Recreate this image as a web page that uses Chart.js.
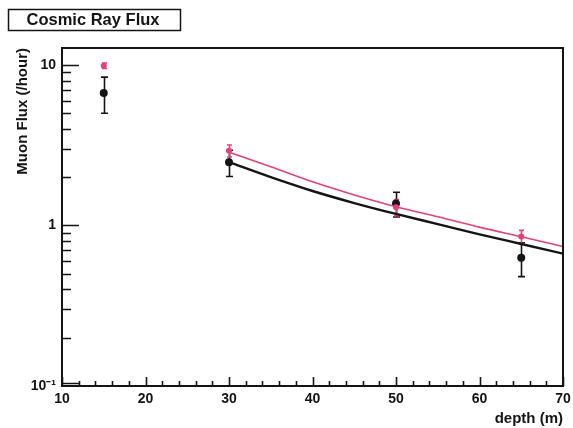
<!DOCTYPE html>
<html lang="en">
<head>
    <meta charset="UTF-8">
    <title>Cosmic Ray Flux</title>
    <script src="https://cdn.jsdelivr.net/npm/chart.js@4/dist/chart.umd.min.js"></script>
    <style>
        html, body { margin: 0; padding: 0; background: #fff; }
        #wrap { width: 573px; height: 428px; }
    </style>
</head>
<body>
<div id="wrap"><canvas id="fluxChart"></canvas></div>

<script>
    // measured points (black) and corrected points (pink) with errors
    var depth = [15, 30, 50, 65];
    var fluxMeasured = [6.7, 2.48, 1.37, 0.63];
    var fluxMeasuredErr = [1.7, 0.46, 0.24, 0.15];
    var fluxCorrected = [9.9, 2.92, 1.30, 0.853];
    var fluxCorrectedErr = [0.4, 0.25, 0.15, 0.08];

    // expected flux curves
    var curveDepth = [30, 35, 40, 45, 50, 55, 60, 65, 70];
    var curveMeasured = [2.48, 2.0, 1.64, 1.38, 1.18, 1.02, 0.881, 0.767, 0.668];
    var curveCorrected = [2.86, 2.32, 1.87, 1.55, 1.31, 1.135, 0.977, 0.851, 0.74];

    // axis ticks and labels
    var xTicks = [10, 12, 14, 16, 18, 20, 22, 24, 26, 28, 30, 32, 34, 36, 38, 40,
                  42, 44, 46, 48, 50, 52, 54, 56, 58, 60, 62, 64, 66, 68, 70];
    var xTickLabels = {10: '10', 20: '20', 30: '30', 40: '40', 50: '50', 60: '60', 70: '70'};
    var yTicks = [0.1, 0.2, 0.3, 0.4, 0.5, 0.6, 0.7, 0.8, 0.9,
                  1, 2, 3, 4, 5, 6, 7, 8, 9, 10];
    var yTickLabels = {'0.1': '10\u207B\u00B9', '1': '1', '10': '10'};

    var PINK = '#e4407c';
    var INK = '#141414';
    var FONT = '"Liberation Sans", Arial, Helvetica, sans-serif';

    function pts(xs, ys) {
        return xs.map(function (x, i) { return {x: x, y: ys[i]}; });
    }

    function isMajorX(v) { return v % 10 === 0; }
    function isMajorY(v) { return v === 0.1 || v === 1 || v === 10; }

    var errorBars = {
        id: 'errorBars',
        beforeDatasetsDraw: function (chart) {
            var ctx = chart.ctx, xs = chart.scales.x, ys = chart.scales.y;
            function bars(vals, errs, color, cap, lw) {
                ctx.save();
                ctx.strokeStyle = color;
                ctx.lineWidth = lw;
                depth.forEach(function (d, i) {
                    var px = Math.round(xs.getPixelForValue(d)) + 0.5;
                    var top = ys.getPixelForValue(vals[i] + errs[i]);
                    var bot = ys.getPixelForValue(vals[i] - errs[i]);
                    ctx.beginPath();
                    ctx.moveTo(px, top); ctx.lineTo(px, bot);
                    ctx.moveTo(px - cap, top); ctx.lineTo(px + cap, top);
                    ctx.moveTo(px - cap, bot); ctx.lineTo(px + cap, bot);
                    ctx.stroke();
                });
                ctx.restore();
            }
            bars(fluxMeasured, fluxMeasuredErr, INK, 3.5, 1.6);
            bars(fluxCorrected, fluxCorrectedErr, PINK, 2.5, 1.6);
        }
    };

    // frame, inward ticks and the boxed title
    var frame = {
        id: 'frame',
        afterDraw: function (chart) {
            var ctx = chart.ctx, a = chart.chartArea;
            var xs = chart.scales.x, ys = chart.scales.y;
            ctx.save();
            ctx.strokeStyle = INK;
            ctx.lineWidth = 2;
            ctx.strokeRect(a.left, a.top, a.right - a.left, a.bottom - a.top);

            ctx.lineWidth = 1.6;
            ctx.beginPath();
            xTicks.forEach(function (v) {
                var px = Math.round(xs.getPixelForValue(v)) + 0.5;
                ctx.moveTo(px, a.bottom);
                ctx.lineTo(px, a.bottom - (isMajorX(v) ? 9 : 5));
            });
            yTicks.forEach(function (v) {
                var py = Math.round(ys.getPixelForValue(v)) + 0.5;
                if (v === 0.1) py -= 3;
                ctx.moveTo(a.left, py);
                ctx.lineTo(a.left + (isMajorY(v) ? 17 : 9), py);
            });
            ctx.stroke();

            ctx.lineWidth = 1.5;
            ctx.strokeRect(8.5, 9.5, 172, 21);
            ctx.fillStyle = INK;
            ctx.font = 'bold 16.5px ' + FONT;
            ctx.textAlign = 'center';
            ctx.textBaseline = 'middle';
            ctx.fillText('Cosmic Ray Flux', 93, 20.5);
            ctx.restore();
        }
    };

    new Chart(document.getElementById('fluxChart').getContext('2d'), {
        type: 'scatter',
        data: {
            datasets: [
                {
                    data: pts(curveDepth, curveCorrected),
                    showLine: true, borderColor: PINK, borderWidth: 1.6,
                    pointRadius: 0, cubicInterpolationMode: 'monotone'
                },
                {
                    data: pts(curveDepth, curveMeasured),
                    showLine: true, borderColor: INK, borderWidth: 2.4,
                    pointRadius: 0, cubicInterpolationMode: 'monotone'
                },
                {
                    data: pts(depth, fluxCorrected),
                    showLine: false, pointStyle: 'circle', pointRadius: 3,
                    backgroundColor: PINK, borderColor: PINK, borderWidth: 0
                },
                {
                    data: pts(depth, fluxMeasured),
                    showLine: false, pointStyle: 'circle', pointRadius: 4,
                    backgroundColor: INK, borderColor: INK, borderWidth: 0
                }
            ]
        },
        options: {
            responsive: true,
            maintainAspectRatio: false,
            animation: false,
            layout: {padding: {left: 0, top: 48, right: 0, bottom: 0}},
            plugins: {legend: {display: false}, tooltip: {enabled: false}},
            scales: {
                x: {
                    type: 'linear', min: 10, max: 70,
                    afterFit: function (s) {
                        s.height = 42;
                        s.paddingLeft = 0;
                        s.paddingRight = 10;
                    },
                    afterBuildTicks: function (s) {
                        s.ticks = xTicks.map(function (v) { return {value: v}; });
                    },
                    grid: {display: false, drawTicks: false},
                    border: {display: false},
                    ticks: {
                        autoSkip: false, maxRotation: 0, padding: 5,
                        color: INK, font: {family: FONT, size: 14, weight: 'bold'},
                        callback: function (v) { return xTickLabels[v] || ''; }
                    },
                    title: {
                        display: true, text: 'depth (m)', align: 'end',
                        color: INK, font: {family: FONT, size: 15, weight: 'bold'},
                        padding: {top: 0, bottom: 0}
                    }
                },
                y: {
                    type: 'logarithmic', min: 0.1, max: 12.76,
                    afterFit: function (s) { s.width = 62; },
                    afterBuildTicks: function (s) {
                        s.ticks = yTicks.map(function (v) { return {value: v}; });
                    },
                    grid: {display: false, drawTicks: false},
                    border: {display: false},
                    ticks: {
                        autoSkip: false, padding: 6,
                        color: INK, font: {family: FONT, size: 14, weight: 'bold'},
                        callback: function (v) { return yTickLabels[String(v)] || ''; }
                    },
                    title: {
                        display: true, text: 'Muon Flux (/hour)', align: 'end',
                        color: INK, font: {family: FONT, size: 15, weight: 'bold'},
                        padding: {top: 14, bottom: 0}
                    }
                }
            }
        },
        plugins: [errorBars, frame]
    });
</script>
</body>
</html>
